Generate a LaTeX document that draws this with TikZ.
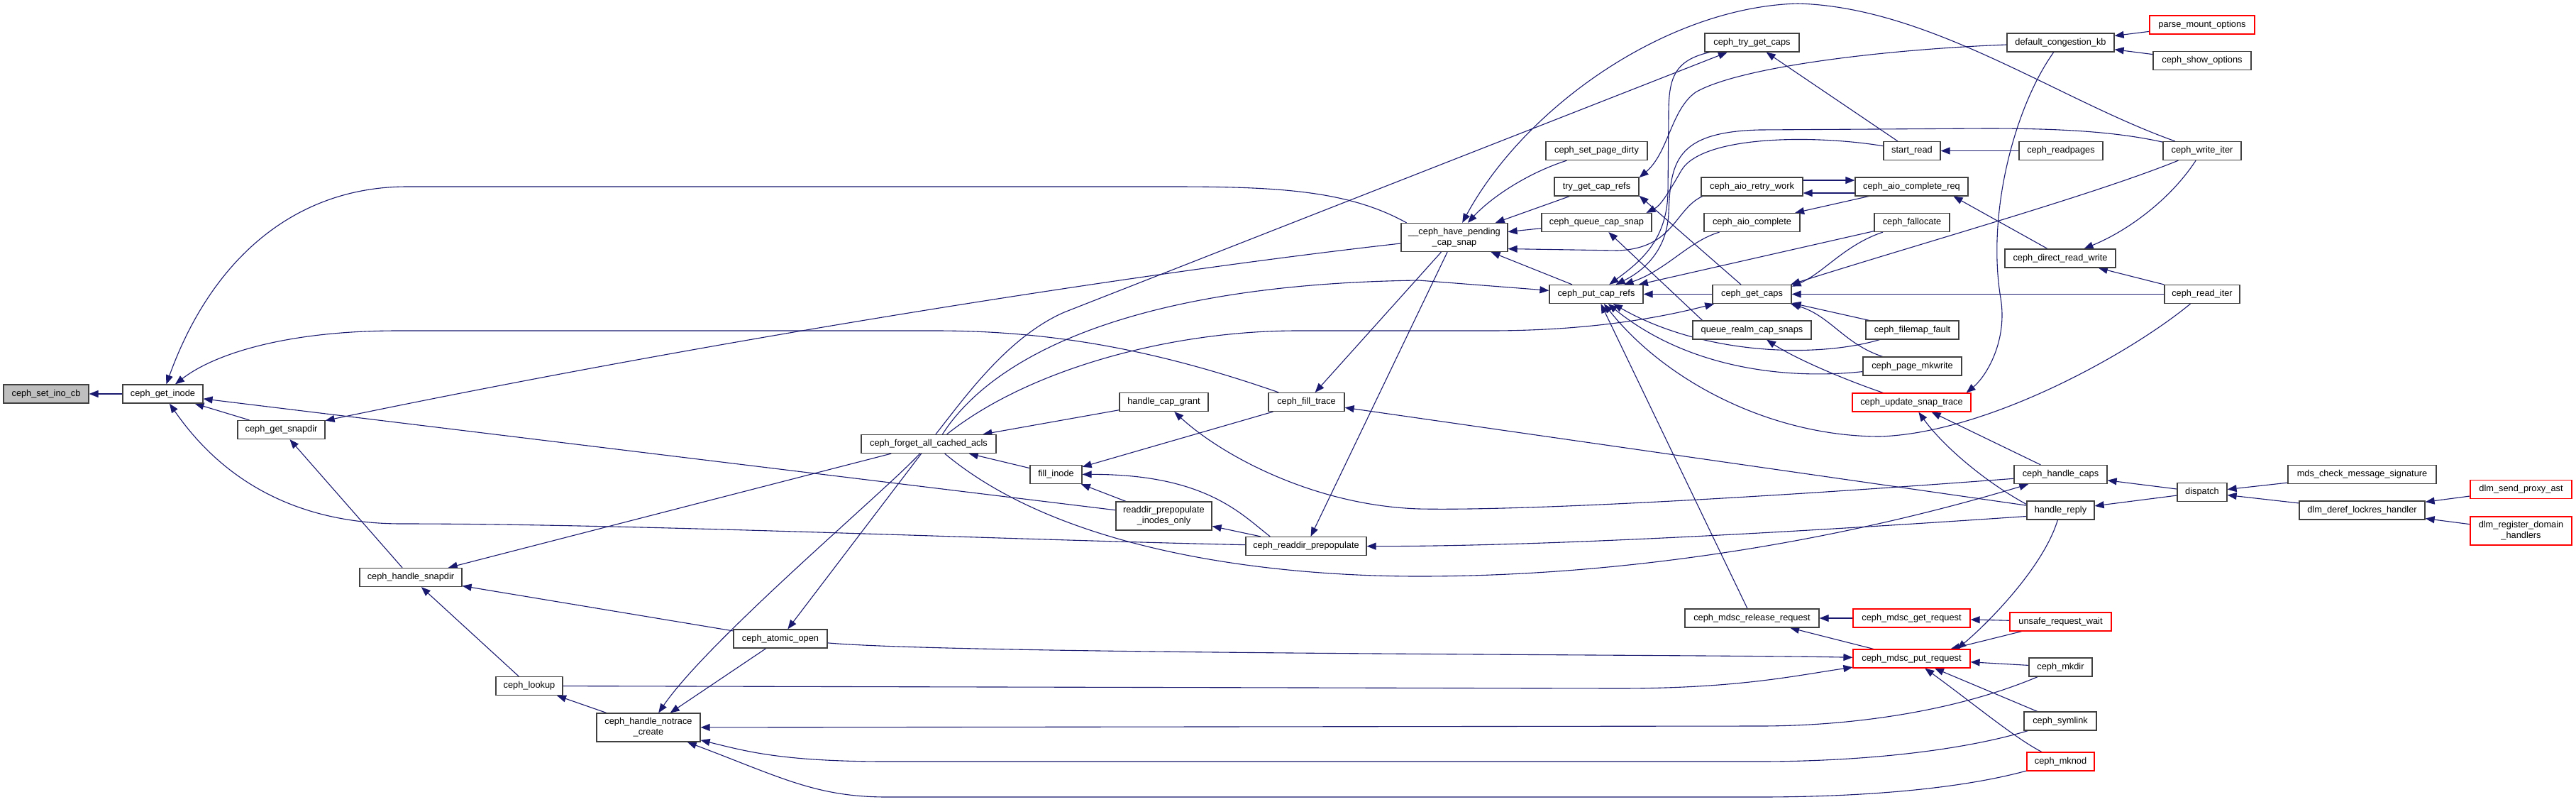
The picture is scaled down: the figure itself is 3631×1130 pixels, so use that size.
\documentclass[tikz,border=0pt]{standalone}
\usepackage{fontspec}
\usetikzlibrary{arrows.meta,backgrounds}
\newfontfamily\nodefont{Liberation Sans}
\definecolor{eblue}{HTML}{191970}
\definecolor{focusgrey}{HTML}{BFBFBF}
\definecolor{boxline}{HTML}{404040}
\tikzset{
  fn/.style={draw=boxline, line width=0.6pt, fill=white, inner sep=0pt,
    minimum height=13pt, align=center,
    font={\nodefont\fontsize{6.4pt}{7.5pt}\selectfont}},
  twoline/.style={minimum height=20pt},
  trunc/.style={draw=red},
  focus/.style={fill=focusgrey},
  ca/.style={draw=eblue, line width=0.55pt, -{Triangle[length=6.5pt,width=5pt]}}
}
\begin{document}
\begin{tikzpicture}[x=0.5pt,y=-0.5pt]
\useasboundingbox (0,0) rectangle (3631,1130);
% nodes
\node[fn,focus,minimum width=60pt] (sic) at (65,555) {ceph\_set\_ino\_cb};
\node[fn,minimum width=56.5pt] (gi) at (229.5,555) {ceph\_get\_inode};
\node[fn,minimum width=61.5pt] (gsd) at (396.5,605.5) {ceph\_get\_snapdir};
\node[fn,minimum width=72pt] (hsd) at (579,813.5) {ceph\_handle\_snapdir};
\node[fn,minimum width=47pt] (lkp) at (746,966.5) {ceph\_lookup};
\node[fn,twoline,minimum width=73pt] (hnc) at (914,1025) {ceph\_handle\_notrace\\\_create};
\node[fn,minimum width=66pt] (ao) at (1100,900) {ceph\_atomic\_open};
\node[fn,minimum width=95pt] (fac) at (1309,625.5) {ceph\_forget\_all\_cached\_acls};
\node[fn,minimum width=62.5pt] (hcg) at (1640.5,566.5) {handle\_cap\_grant};
\node[fn,minimum width=53.5pt] (ft) at (1841.5,566.5) {ceph\_fill\_trace};
\node[fn,minimum width=36.5pt] (fi) at (1488.5,668.5) {fill\_inode};
\node[fn,twoline,minimum width=67.5pt] (rpio) at (1640.5,727) {readdir\_prepopulate\\\_inodes\_only};
\node[fn,minimum width=85pt] (rp) at (1841,769.5) {ceph\_readdir\_prepopulate};
\node[fn,twoline,minimum width=75pt] (pend) at (2050,334.5) {\_\_ceph\_have\_pending\\\_cap\_snap};
\node[fn,minimum width=71.5pt] (spd) at (2250.5,212.5) {ceph\_set\_page\_dirty};
\node[fn,minimum width=59.5pt] (tgcr) at (2250.5,263) {try\_get\_cap\_refs};
\node[fn,minimum width=77.5pt] (qcs) at (2250.5,313.5) {ceph\_queue\_cap\_snap};
\node[fn,minimum width=66pt] (pcr) at (2250,414.5) {ceph\_put\_cap\_refs};
\node[fn,minimum width=66.5pt] (tgc) at (2469.5,60) {ceph\_try\_get\_caps};
\node[fn,minimum width=71.5pt] (arw) at (2469.5,263) {ceph\_aio\_retry\_work};
\node[fn,minimum width=67.5pt] (ac) at (2469.5,313.5) {ceph\_aio\_complete};
\node[fn,minimum width=55.5pt] (gc) at (2469.5,414.5) {ceph\_get\_caps};
\node[fn,minimum width=83.5pt] (qrcs) at (2469.5,465) {queue\_realm\_cap\_snaps};
\node[fn,minimum width=94.5pt] (mrr) at (2469.5,871) {ceph\_mdsc\_release\_request};
\node[fn,minimum width=40pt] (sr) at (2695,212.5) {start\_read};
\node[fn,minimum width=79.5pt] (acr) at (2694.5,263) {ceph\_aio\_complete\_req};
\node[fn,minimum width=53pt] (fa) at (2695,313.5) {ceph\_fallocate};
\node[fn,minimum width=65.5pt] (ff) at (2695.5,465) {ceph\_filemap\_fault};
\node[fn,minimum width=69.5pt] (pm) at (2695.5,516) {ceph\_page\_mkwrite};
\node[fn,trunc,minimum width=83.5pt] (ust) at (2694.5,567) {ceph\_update\_snap\_trace};
\node[fn,trunc,minimum width=82.5pt] (mgr) at (2694.5,871) {ceph\_mdsc\_get\_request};
\node[fn,trunc,minimum width=82.5pt] (mpr) at (2694.5,928) {ceph\_mdsc\_put\_request};
\node[fn,minimum width=75.5pt] (dck) at (2904.5,60) {default\_congestion\_kb};
\node[fn,minimum width=59pt] (rpg) at (2905,212.5) {ceph\_readpages};
\node[fn,minimum width=78pt] (drw) at (2904,364) {ceph\_direct\_read\_write};
\node[fn,minimum width=65.5pt] (hc) at (2904.5,668.5) {ceph\_handle\_caps};
\node[fn,minimum width=47.5pt] (hr) at (2904.5,719) {handle\_reply};
\node[fn,trunc,minimum width=71.5pt] (urw) at (2904.5,876) {unsafe\_request\_wait};
\node[fn,minimum width=44.5pt] (mkd) at (2904.5,940) {ceph\_mkdir};
\node[fn,minimum width=51pt] (sym) at (2904,1016) {ceph\_symlink};
\node[fn,trunc,minimum width=47.5pt] (mkn) at (2904.5,1073) {ceph\_mknod};
\node[fn,trunc,minimum width=74pt] (pmo) at (3104,35) {parse\_mount\_options};
\node[fn,minimum width=69pt] (sho) at (3104,85.5) {ceph\_show\_options};
\node[fn,minimum width=55pt] (wi) at (3104,212.5) {ceph\_write\_iter};
\node[fn,minimum width=53pt] (ri) at (3104,414.5) {ceph\_read\_iter};
\node[fn,minimum width=35pt] (dsp) at (3104,693.5) {dispatch};
\node[fn,minimum width=104.5pt] (mcms) at (3329.5,668.5) {mds\_check\_message\_signature};
\node[fn,minimum width=88.5pt] (dlh) at (3329.5,719) {dlm\_deref\_lockres\_handler};
\node[fn,trunc,minimum width=71.5pt] (dspa) at (3553.5,689.5) {dlm\_send\_proxy\_ast};
\node[fn,trunc,twoline,minimum width=71.5pt] (drdh) at (3553.5,748) {dlm\_register\_domain\\\_handlers};
% edges
\begin{pgfonlayer}{background}
\draw[ca] (gi) -- (sic);
\draw[ca] (gsd) -- (gi);
\draw[ca] (pend.163) .. controls (1900,268) and (1800,263) .. (1651,263) -- (574,263) .. controls (420,263) and (300,360) .. (gi);
\draw[ca] (ft) .. controls (1650,500) and (1500,466) .. (1319,466) -- (561,466) .. controls (400,466) and (300,500) .. (gi);
\draw[ca] (pend) .. controls (1600,385) and (1000,480) .. (gsd);
\draw[ca] (rpio) -- (gi);
\draw[ca] (rp) .. controls (1400,760) and (900,738) .. (566,738) .. controls (450,738) and (330,700) .. (gi);
\draw[ca] (hsd) -- (gsd);
\draw[ca] (fac) -- (hsd);
\draw[ca] (ao) -- (hsd);
\draw[ca] (lkp) -- (hsd);
\draw[ca] (hnc) -- (lkp);
\draw[ca] (ao) -- (hnc);
\draw[ca] (fac) .. controls (1250,690) and (1000,900) .. (hnc);
\draw[ca] (fac) -- (ao);
\draw[ca] (lkp) -- (2281,970) .. controls (2450,970) and (2530,952) .. (mpr);
\draw[ca] (ao) .. controls (1350,922) and (2400,922) .. (mpr);
\draw[ca] (mkd) .. controls (2750,1005) and (2600,1023) .. (2480,1023) -- (hnc);
\draw[ca] (sym) .. controls (2750,1062) and (2600,1073) .. (2480,1073) -- (1250,1073) .. controls (1100,1073) and (1050,1058) .. (hnc);
\draw[ca] (mkn) .. controls (2750,1115) and (2600,1123) .. (2480,1123) -- (1250,1123) .. controls (1150,1123) and (1100,1095) .. (hnc);
\draw[ca] (mkd) -- (mpr);
\draw[ca] (sym) -- (mpr);
\draw[ca] (mkn) .. controls (2840,1040) and (2780,990) .. (mpr);
\draw[ca] (urw) -- (mpr);
\draw[ca] (hr) .. controls (2880,800) and (2800,880) .. (mpr.12);
\draw[ca] (mpr) -- (mrr);
\draw[ca] (mgr) -- (mrr);
\draw[ca] (urw) -- (mgr);
\draw[ca] (mrr) -- (pcr);
\draw[ca] (hr.190) .. controls (2600,745) and (2200,770) .. (rp);
\draw[ca] (hr) -- (ft);
\draw[ca] (hr.170) .. controls (2800,680) and (2740,630) .. (ust);
\draw[ca] (hc) -- (ust);
\draw[ca] (hc.185) .. controls (2500,700) and (2150,720) .. (2000,717) .. controls (1850,712) and (1720,640) .. (hcg);
\draw[ca] (fac.-31) .. controls (1500,780) and (1800,812) .. (2000,812) .. controls (2300,812) and (2600,760) .. (hc);
\draw[ca] (fac.54) .. controls (1360,560) and (1420,475) .. (1500,440) -- (tgc);
\draw[ca] (fac.35) .. controls (1400,500) and (1600,400) .. (2000,395) -- (pcr);
\draw[ca] (fac.28) .. controls (1450,520) and (1650,466) .. (1829,466) -- (2100,466) .. controls (2250,466) and (2350,445) .. (gc);
\draw[ca] (hcg) -- (fac);
\draw[ca] (fi) -- (fac);
\draw[ca] (ft) -- (fi);
\draw[ca] (rp.165) .. controls (1750,725) and (1700,668) .. (fi);
\draw[ca] (rpio) -- (fi);
\draw[ca] (rp) -- (rpio);
\draw[ca] (pend) -- (ft);
\draw[ca] (pend) -- (rp);
\draw[ca] (spd) .. controls (2150,245) and (2100,280) .. (pend);
\draw[ca] (tgcr) -- (pend);
\draw[ca] (qcs) -- (pend);
\draw[ca] (pcr) -- (pend);
\draw[ca] (arw.191) .. controls (2360,295) and (2360,350) .. (2280,353) -- (pend.-12);
\draw[ca] (sr) .. controls (2560,190) and (2400,190) .. (2370,240) .. controls (2350,275) and (2340,290) .. (qcs.11);
\draw[ca] (wi) .. controls (2980,185) and (2900,181) .. (2800,181) -- (2480,183) .. controls (2360,186) and (2355,230) .. (2352,300) .. controls (2350,350) and (2320,380) .. (pcr);
\draw[ca] (tgc) .. controls (2360,85) and (2352,110) .. (2352,160) -- (2351,270) .. controls (2350,340) and (2310,370) .. (pcr);
\draw[ca] (dck) .. controls (2650,70) and (2450,95) .. (2390,130) .. controls (2355,155) and (2352,215) .. (tgcr.12);
\draw[ca] (gc) -- (tgcr.-12);
\draw[ca] (qrcs.169) -- (qcs.-39);
\draw[ca] (ust) .. controls (2600,535) and (2530,505) .. (qrcs);
\draw[ca] (dck) .. controls (2840,150) and (2800,300) .. (2820,420) .. controls (2830,480) and (2800,530) .. (ust.10);
\draw[ca] (sr) -- (tgc);
\draw[ca] (rpg) -- (sr);
\draw[ca] ([yshift=4.5pt]arw.east) -- ([yshift=4.5pt]acr.west);
\draw[ca] ([yshift=-4.5pt]acr.west) -- ([yshift=-4.5pt]arw.east);
\draw[ca] (acr) -- (ac);
\draw[ca] (drw.143) -- (acr.-13);
\draw[ca] (ac) .. controls (2380,340) and (2350,380) .. (pcr);
\draw[ca] (fa) -- (pcr);
\draw[ca] (fa) .. controls (2600,345) and (2570,385) .. (gc.11);
\draw[ca] (wi) .. controls (2950,275) and (2700,345) .. (gc.14);
\draw[ca] (ri) -- (gc);
\draw[ca] (ff) -- (gc);
\draw[ca] (pm) .. controls (2600,485) and (2580,445) .. (gc.-14);
\draw[ca] (ff) .. controls (2560,505) and (2400,500) .. (pcr);
\draw[ca] (pm) .. controls (2520,535) and (2380,520) .. (pcr);
\draw[ca] (ri) .. controls (3000,500) and (2800,610) .. (2650,615) .. controls (2500,615) and (2350,540) .. (pcr);
\draw[ca] (wi) .. controls (3060,280) and (3000,325) .. (drw);
\draw[ca] (ri) -- (drw);
\draw[ca] (wi) .. controls (2900,140) and (2720,10) .. (2534,5) .. controls (2350,10) and (2150,150) .. (pend);
\draw[ca] (pmo) -- (dck);
\draw[ca] (sho) -- (dck);
\draw[ca] (dsp) -- (hc);
\draw[ca] (dsp) -- (hr);
\draw[ca] (mcms) -- (dsp);
\draw[ca] (dlh) -- (dsp);
\draw[ca] (dspa) -- (dlh);
\draw[ca] (drdh) -- (dlh);
\draw[ca] (gc) -- (pcr);
\end{pgfonlayer}
\end{tikzpicture}
\end{document}
